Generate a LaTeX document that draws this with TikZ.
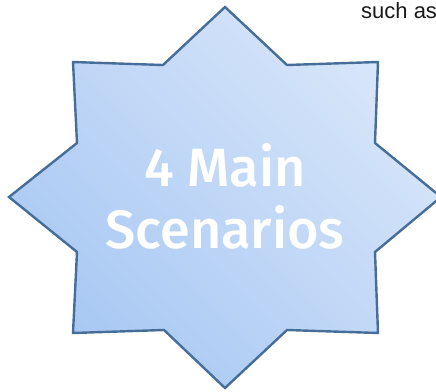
\documentclass[tikz,border=0pt]{standalone}
\usepackage{fontspec}
\setmainfont{Liberation Sans}
\newfontfamily\scenfont{Fira Sans}[UprightFont=* Medium]
\usepackage{tikz}
\usetikzlibrary{positioning}

\definecolor{starlight}{HTML}{D8E6FA}
\definecolor{stardark}{HTML}{A8C8F3}
\definecolor{starline}{HTML}{466E98}

\begin{document}
\begin{tikzpicture}[x=1pt,y=1pt,
    starshape/.style={draw=starline,line width=2.4pt,line join=miter,
        bottom color=stardark,top color=starlight,shading angle=-45},
    scentext/.style={text=white,font=\scenfont\fontsize{54}{62}\selectfont,inner sep=0pt,anchor=base},
    sidetext/.style={text=black!90,font=\fontsize{22}{24}\selectfont,inner sep=0pt,anchor=base west}]
\useasboundingbox (0,0) rectangle (436,-391);
	% the eight pointed star
	\draw[starshape] (225,-7) -- (287,-65) -- (378,-62) -- (375,-143)
		-- (441,-197) -- (375,-252) -- (378,-333) -- (287,-330)
		-- (225,-388) -- (164,-330) -- (73,-333) -- (77,-252)
		-- (9,-197) -- (77,-143) -- (73,-62) -- (163,-65) -- cycle;
	\node[scentext] (main) at (225,-186) {4 Main};
	\node[scentext] (scen) at ([yshift=-62pt]main.base) {Scenarios};
	% text running in from the right
	\node[sidetext] (such) at (361,-18) {such as};
\end{tikzpicture}
\end{document}
